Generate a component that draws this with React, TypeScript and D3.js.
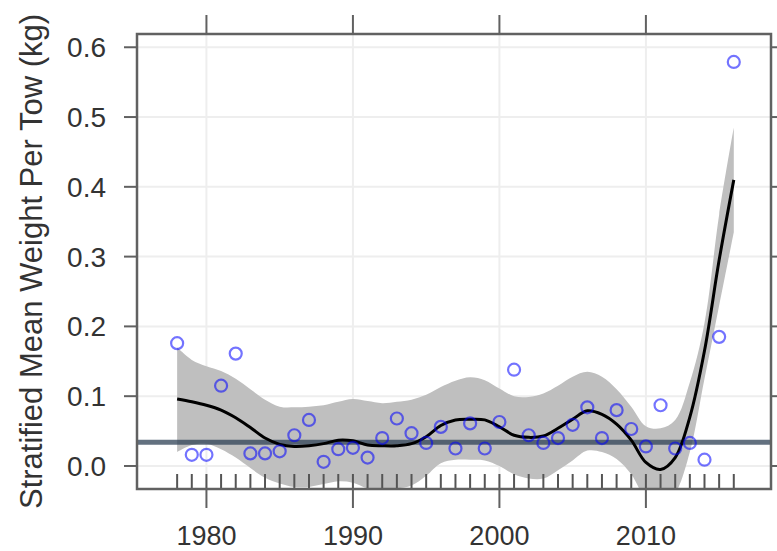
import * as d3 from 'd3';

// survey years (points + rug)
const years = d3.range(1978, 2017);

// stratified mean weight per tow (kg), one per year
const weights = [
  0.176, 0.016, 0.016, 0.115, 0.161, 0.018, 0.018, 0.021, 0.044, 0.066,
  0.006, 0.024, 0.026, 0.012, 0.040, 0.068, 0.047, 0.033, 0.056, 0.025,
  0.061, 0.025, 0.063, 0.138, 0.044, 0.033, 0.040, 0.059, 0.084, 0.040,
  0.080, 0.053, 0.028, 0.087, 0.025, 0.033, 0.009, 0.185, 0.579,
];

// smoother fit and its confidence band
const fit = [
  0.096, 0.092, 0.087, 0.080, 0.069, 0.055, 0.040, 0.031, 0.028, 0.029,
  0.032, 0.037, 0.036, 0.030, 0.029, 0.029, 0.032, 0.042, 0.058, 0.066,
  0.067, 0.066, 0.056, 0.044, 0.041, 0.043, 0.054, 0.067, 0.079, 0.074,
  0.060, 0.037, 0.005, -0.005, 0.012, 0.070, 0.165, 0.295, 0.410,
];
const upper = [
  0.170, 0.152, 0.143, 0.136, 0.125, 0.110, 0.095, 0.085, 0.084, 0.085,
  0.087, 0.092, 0.096, 0.093, 0.090, 0.092, 0.095, 0.102, 0.113, 0.122,
  0.127, 0.123, 0.111, 0.100, 0.099, 0.104, 0.115, 0.128, 0.135, 0.128,
  0.110, 0.085, 0.057, 0.054, 0.066, 0.120, 0.205, 0.360, 0.485,
];
const lower = [
  0.020, 0.030, 0.032, 0.024, 0.012, -0.003, -0.017, -0.025, -0.030, -0.030,
  -0.026, -0.022, -0.024, -0.032, -0.033, -0.032, -0.028, -0.014, 0.004, 0.009,
  0.009, 0.008, 0.000, -0.012, -0.018, -0.018, -0.006, 0.008, 0.022, 0.020,
  0.010, -0.012, -0.048, -0.064, -0.040, 0.020, 0.125, 0.230, 0.335,
];

// long-term reference level
const refLevel = 0.034;

const xTicks = [1980, 1990, 2000, 2010];
const yTicks = [0.0, 0.1, 0.2, 0.3, 0.4, 0.5, 0.6];
const yTitle = 'Stratified Mean Weight Per Tow (kg)';

const W = 777, H = 551;
const panel = { left: 137, right: 771, top: 34, bottom: 489 };

export default function App() {
  const x = d3.scaleLinear().domain([1975.26, 2018.54]).range([panel.left, panel.right]);
  const y = d3.scaleLinear().domain([-0.033, 0.619]).range([panel.bottom, panel.top]);

  const rows = years.map((yr, i) => ({ yr, w: weights[i], f: fit[i], lo: lower[i], hi: upper[i] }));

  const band = d3.area<any>()
    .x(d => x(d.yr))
    .y0(d => y(d.lo))
    .y1(d => y(d.hi))
    .curve(d3.curveCatmullRom.alpha(0.5));

  const line = d3.line<any>()
    .x(d => x(d.yr))
    .y(d => y(d.f))
    .curve(d3.curveCatmullRom.alpha(0.5));

  const font = "'Liberation Sans', Arial, sans-serif";
  const frame = '#616161';

  return (
    <svg width={W} height={H} style={{ position: 'absolute', left: 0, top: 0, background: '#fff' }}
      fontFamily={font}>
      <defs>
        <clipPath id="panel-clip">
          <rect x={panel.left} y={panel.top} width={panel.right - panel.left} height={panel.bottom - panel.top} />
        </clipPath>
      </defs>

      {/* grid */}
      <g stroke="#eeeeee" strokeWidth={2}>
        {yTicks.map(t => (
          <line key={'gy' + t} x1={panel.left} x2={panel.right} y1={y(t)} y2={y(t)} />
        ))}
        {xTicks.map(t => (
          <line key={'gx' + t} x1={x(t)} x2={x(t)} y1={panel.top} y2={panel.bottom} />
        ))}
      </g>

      <g clipPath="url(#panel-clip)">
        <path d={band(rows) || ''} fill="#bfbfbf" />
        <line x1={panel.left} x2={panel.right} y1={y(refLevel)} y2={y(refLevel)}
          stroke="#2f4256" strokeOpacity={0.75} strokeWidth={5} />
        {/* rug */}
        <g stroke="#555" strokeWidth={2}>
          {years.map(yr => (
            <line key={'r' + yr} x1={x(yr)} x2={x(yr)} y1={panel.bottom - 15} y2={panel.bottom} />
          ))}
        </g>
        <path d={line(rows) || ''} fill="none" stroke="#000" strokeWidth={3} />
        <g fill="none" stroke="#0000ff" strokeOpacity={0.55} strokeWidth={2.2}>
          {rows.map(d => (
            <circle key={'p' + d.yr} cx={x(d.yr)} cy={y(d.w)} r={6} />
          ))}
        </g>
      </g>

      {/* frame and ticks */}
      <rect x={panel.left} y={panel.top} width={panel.right - panel.left} height={panel.bottom - panel.top}
        fill="none" stroke={frame} strokeWidth={2.5} />
      <g stroke={frame} strokeWidth={2}>
        {yTicks.map(t => (
          <g key={'ty' + t}>
            <line x1={panel.left - 13} x2={panel.left} y1={y(t)} y2={y(t)} />
            <line x1={panel.right} x2={panel.right + 13} y1={y(t)} y2={y(t)} />
          </g>
        ))}
        {xTicks.map(t => (
          <g key={'tx' + t}>
            <line x1={x(t)} x2={x(t)} y1={panel.bottom} y2={panel.bottom + 19} />
            <line x1={x(t)} x2={x(t)} y1={panel.top - 19} y2={panel.top} />
          </g>
        ))}
      </g>

      <g fill="#333" fontSize={28}>
        {yTicks.map(t => (
          <text key={'ly' + t} x={106} y={y(t)} dy="0.36em" textAnchor="end">{d3.format('.1f')(t)}</text>
        ))}
      </g>
      <g fill="#333" fontSize={27}>
        {xTicks.map(t => (
          <text key={'lx' + t} x={x(t)} y={545} textAnchor="middle">{t}</text>
        ))}
      </g>

      <text transform={`translate(42,${(panel.top + panel.bottom) / 2}) rotate(-90)`}
        textAnchor="middle" fontSize={31} fill="#333">{yTitle}</text>
    </svg>
  );
}
